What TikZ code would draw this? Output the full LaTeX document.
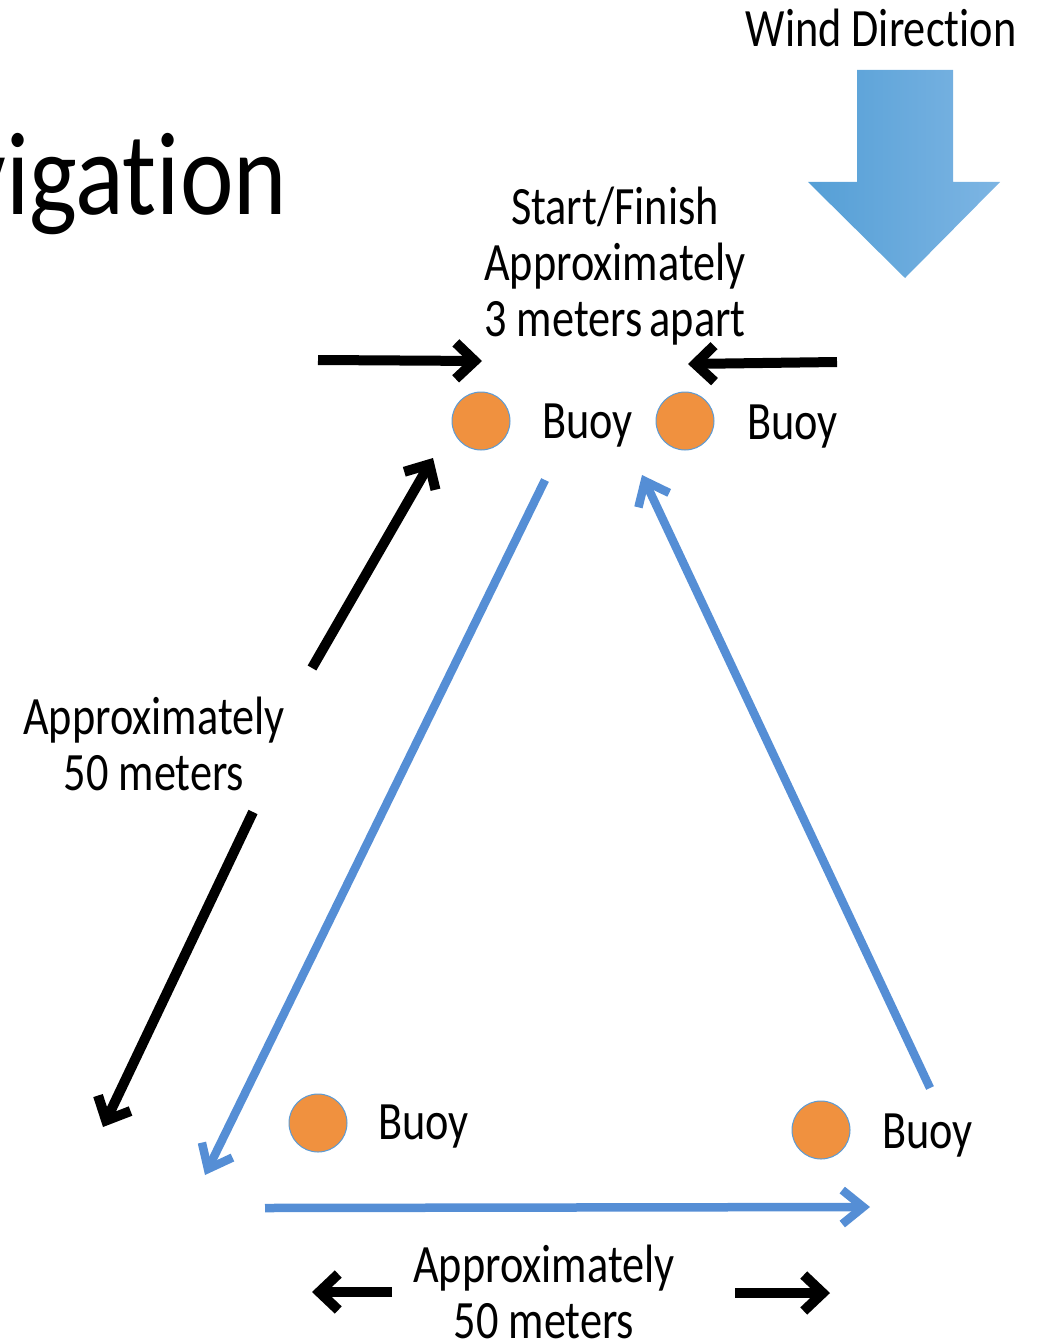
\documentclass[tikz,border=0pt]{standalone}
\usepackage{fontspec}
\setmainfont{Carlito}[Ligatures={NoCommon,NoContextual}]
\usetikzlibrary{arrows.meta}

\definecolor{buoyorange}{HTML}{F0913F}
\definecolor{buoyedge}{HTML}{5B9BD5}
\definecolor{course}{HTML}{558ED5}
\definecolor{windleft}{HTML}{559FD6}
\definecolor{windright}{HTML}{7DB5E3}

\begin{document}
\begin{tikzpicture}[x=1pt, y=-1pt,
  label/.style={inner sep=0, xscale=0.82, align=center,
    font=\fontsize{54}{56}\selectfont},
  buoy/.style={circle, fill=buoyorange, draw=buoyedge, line width=1pt,
    minimum size=58pt, inner sep=0},
  blackarrow/.style={line width=10pt, -{Straight Barb[length=19pt,width=36pt]}},
  bluearrow/.style={line width=8.5pt, draw=course, -{Straight Barb[length=21pt,width=34pt]}}]

\useasboundingbox (0,0) rectangle (1041,1340);
\clip (0,0) rectangle (1041,1340);

\node [inner sep=0, xscale=0.86, anchor=base east,
  font=\fontsize{118}{120}\selectfont] (title) at (287,215) {Navigation};

% wind
\node [label, anchor=base] (wind) at (881,47) {Wind Direction};
\shade [left color=windleft, right color=windright]
  (857,70)--(953,70)--(953,182)--(1000,182)--(905,278)--(808,182)--(857,182)--cycle;

% start / finish line
\node [label, anchor=north] (start) at (615,187) {Start/Finish\\Approximately\\3 meters\,apart};
\coordinate (ls) at (318,360);
\coordinate (le) at (482,361);
\coordinate (rs) at (837,362);
\coordinate (re) at (688,364);
\draw [blackarrow] (ls)--(le);
\draw [blackarrow] (rs)--(re);

% buoys
\node [buoy] (b1) at (481,421) {};
\node [buoy] (b2) at (685,421) {};
\node [buoy] (b3) at (318,1123) {};
\node [buoy] (b4) at (821,1130) {};
\node [label, anchor=base west] (t1) at (542,438) {Buoy};
\node [label, anchor=base west] (t2) at (747,439) {Buoy};
\node [label, anchor=base west] (t3) at (378,1139) {Buoy};
\node [label, anchor=base west] (t4) at (882,1148) {Buoy};

% course
\coordinate (c1) at (545,480);
\coordinate (c2) at (205,1175);
\coordinate (c3) at (265,1208);
\coordinate (c4) at (870,1207);
\coordinate (c5) at (930,1088);
\coordinate (c6) at (642,475);
\draw [bluearrow] (c1)--(c2);
\draw [bluearrow] (c3)--(c4);
\draw [bluearrow] (c5)--(c6);

% side distance
\node [label, anchor=north] (side) at (154,697) {Approximately\\50 meters};
\coordinate (s1) at (312,668);
\coordinate (s2) at (433,458);
\coordinate (s3) at (253,812);
\coordinate (s4) at (103,1127);
\draw [blackarrow] (s1)--(s2);
\draw [blackarrow] (s3)--(s4);

% bottom distance
\node [label, anchor=north] (bottom) at (544,1245) {Approximately\\50 meters};
\coordinate (d1) at (392,1292);
\coordinate (d2) at (312,1292);
\coordinate (d3) at (735,1293);
\coordinate (d4) at (830,1293);
\draw [blackarrow] (d1)--(d2);
\draw [blackarrow] (d3)--(d4);

\end{tikzpicture}
\end{document}
